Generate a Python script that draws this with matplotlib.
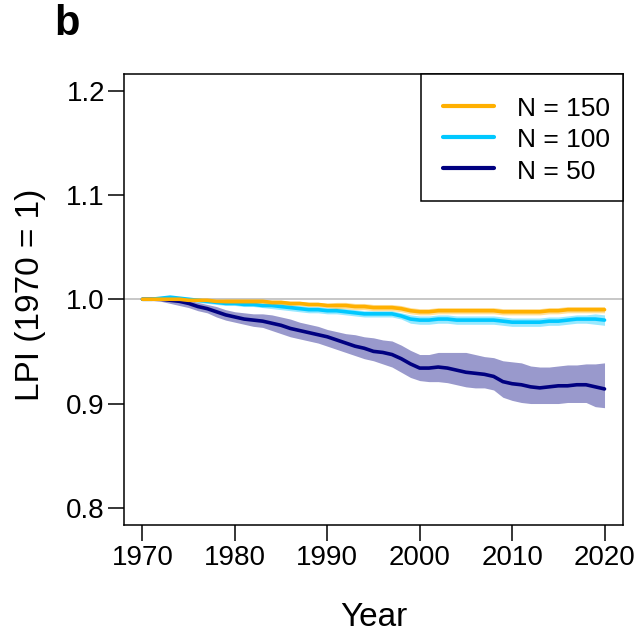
import matplotlib
matplotlib.use("Agg")
import matplotlib.pyplot as plt
from matplotlib.patches import Rectangle
import numpy as np

plt.rcParams['font.family'] = ['Liberation Sans', 'DejaVu Sans']

years = list(range(1970, 2021))

mean50 = [1.000, 1.000, 1.000, 0.999, 0.998, 0.996, 0.993, 0.991, 0.988, 0.985,
          0.983, 0.981, 0.980, 0.979, 0.977, 0.975, 0.972, 0.970, 0.968, 0.966,
          0.964, 0.961, 0.958, 0.955, 0.953, 0.950, 0.949, 0.947, 0.943, 0.938,
          0.934, 0.934, 0.935, 0.934, 0.932, 0.930, 0.929, 0.928, 0.926, 0.921,
          0.919, 0.918, 0.916, 0.915, 0.916, 0.917, 0.917, 0.918, 0.918, 0.916,
          0.914]
upper50 = [1.000, 1.001, 1.002, 1.002, 1.001, 0.999, 0.997, 0.995, 0.993, 0.990,
           0.988, 0.987, 0.986, 0.986, 0.985, 0.983, 0.981, 0.978, 0.976, 0.974,
           0.971, 0.969, 0.967, 0.966, 0.964, 0.963, 0.961, 0.960, 0.956, 0.951,
           0.947, 0.947, 0.949, 0.949, 0.949, 0.949, 0.947, 0.945, 0.944, 0.941,
           0.940, 0.939, 0.936, 0.935, 0.935, 0.936, 0.937, 0.937, 0.938, 0.938,
           0.939]
lower50 = [1.000, 0.999, 0.998, 0.996, 0.994, 0.992, 0.989, 0.987, 0.983, 0.980,
           0.978, 0.976, 0.974, 0.973, 0.970, 0.967, 0.964, 0.962, 0.960, 0.958,
           0.955, 0.952, 0.949, 0.946, 0.943, 0.941, 0.938, 0.935, 0.930, 0.925,
           0.922, 0.921, 0.921, 0.920, 0.918, 0.916, 0.915, 0.915, 0.913, 0.906,
           0.903, 0.901, 0.900, 0.900, 0.900, 0.900, 0.901, 0.901, 0.901, 0.897,
           0.896]

mean100 = [1.000, 1.000, 1.001, 1.002, 1.001, 1.000, 0.999, 0.998, 0.997, 0.996,
           0.996, 0.995, 0.995, 0.994, 0.994, 0.993, 0.992, 0.991, 0.990, 0.990,
           0.989, 0.989, 0.988, 0.987, 0.986, 0.986, 0.986, 0.986, 0.984, 0.981,
           0.980, 0.980, 0.981, 0.981, 0.980, 0.980, 0.980, 0.980, 0.980, 0.979,
           0.978, 0.978, 0.978, 0.978, 0.979, 0.979, 0.980, 0.981, 0.981, 0.981,
           0.980]
half100 = [0.000, 0.001, 0.001, 0.001, 0.001, 0.001, 0.002, 0.002, 0.002, 0.002,
           0.002, 0.002, 0.002, 0.002, 0.003, 0.003, 0.003, 0.003, 0.003, 0.003,
           0.003, 0.003, 0.003, 0.003, 0.003, 0.003, 0.003, 0.003, 0.003, 0.004,
           0.004, 0.004, 0.004, 0.004, 0.004, 0.004, 0.004, 0.004, 0.004, 0.004,
           0.004, 0.004, 0.004, 0.004, 0.004, 0.004, 0.004, 0.004, 0.004, 0.005,
           0.005]

mean150 = [1.000, 1.000, 1.000, 1.000, 1.000, 0.999, 0.999, 0.999, 0.998, 0.998,
           0.998, 0.998, 0.998, 0.998, 0.997, 0.997, 0.996, 0.996, 0.995, 0.995,
           0.994, 0.994, 0.994, 0.993, 0.993, 0.992, 0.992, 0.992, 0.991, 0.989,
           0.988, 0.988, 0.989, 0.989, 0.989, 0.989, 0.989, 0.989, 0.989, 0.988,
           0.988, 0.988, 0.988, 0.988, 0.989, 0.989, 0.990, 0.990, 0.990, 0.990,
           0.990]
half150 = [0.000, 0.000, 0.001, 0.001, 0.001, 0.001, 0.001, 0.001, 0.001, 0.002,
           0.002, 0.002, 0.002, 0.002, 0.002, 0.002, 0.002, 0.002, 0.002, 0.002,
           0.002, 0.003, 0.003, 0.003, 0.003, 0.003, 0.003, 0.003, 0.003, 0.003,
           0.003, 0.003, 0.003, 0.003, 0.003, 0.003, 0.003, 0.003, 0.003, 0.003,
           0.003, 0.003, 0.003, 0.003, 0.003, 0.003, 0.003, 0.003, 0.003, 0.003,
           0.003]

labels = ["N = 150", "N = 100", "N = 50"]
colors = ["#FFB000", "#00C8FF", "#000080"]
xticks = [1970, 1980, 1990, 2000, 2010, 2020]
yticks = [0.8, 0.9, 1.0, 1.1, 1.2]

fig = plt.figure(figsize=(6.4, 6.34), dpi=100)
ax_h = 524.5 - 74
ax_w = 623 - 124
ax = fig.add_axes([124/640, 1 - 524.5/634, ax_w/640, ax_h/634])

ax.axhline(1.0, color="#BEBEBE", lw=1.2, zorder=1)

yr = np.array(years)
m50, m100, m150 = map(np.array, (mean50, mean100, mean150))
h100, h150 = np.array(half100), np.array(half150)

ax.fill_between(yr, lower50, upper50, color=colors[2], alpha=0.4, lw=0, zorder=2)
l50, = ax.plot(yr, m50, color=colors[2], lw=2.6, solid_capstyle="round", zorder=3)
ax.fill_between(yr, m100 - h100, m100 + h100, color=colors[1], alpha=0.4, lw=0, zorder=4)
l100, = ax.plot(yr, m100, color=colors[1], lw=2.6, solid_capstyle="round", zorder=5)
ax.fill_between(yr, m150 - h150, m150 + h150, color=colors[0], alpha=0.4, lw=0, zorder=6)
l150, = ax.plot(yr, m150, color=colors[0], lw=2.6, solid_capstyle="round", zorder=7)

ax.set_xlim(1968, 2022)
ax.set_ylim(0.784, 1.216)
ax.set_xticks(xticks)
ax.set_yticks(yticks)
ax.set_yticklabels([f"{v:.1f}" for v in yticks])
ax.tick_params(direction="out", length=11.5, width=1.1, labelsize=20, colors="black")
ax.tick_params(axis="x", pad=3.4)
ax.tick_params(axis="y", pad=2.2)
for s in ax.spines.values():
    s.set_linewidth(1.1)

# legend frame (drawn separately for asymmetric padding)
frame = Rectangle(((421 - 124) / ax_w, 1 - (201 - 74) / ax_h),
                  1 - (421 - 124) / ax_w, (201 - 74) / ax_h,
                  transform=ax.transAxes, facecolor="white", edgecolor="black",
                  lw=1.1, zorder=8, clip_on=False)
ax.add_patch(frame)

leg = ax.legend([l150, l100, l50], labels, loc="upper right", fontsize=19,
                frameon=False, borderaxespad=0,
                bbox_to_anchor=(1 + 4 / ax_w, 1 - 4 / ax_h),
                handlelength=1.93, handleheight=1.0, handletextpad=0.87,
                labelspacing=0.21, borderpad=0.65)
leg.set_zorder(9)
for h in leg.get_lines():
    h.set_linewidth(3)

fig.text(374/640, 1 - 626.5/634, "Year", ha="center", va="baseline", fontsize=24)
fig.text(38.6/640, 1 - 295/634, "LPI (1970 = 1)", ha="center", va="baseline",
         rotation=90, rotation_mode="anchor", fontsize=24)
fig.text(54/640, 1 - 4/634, "b", ha="left", va="top", fontsize=30, fontweight="bold")

fig.savefig("out.png", dpi=100)
